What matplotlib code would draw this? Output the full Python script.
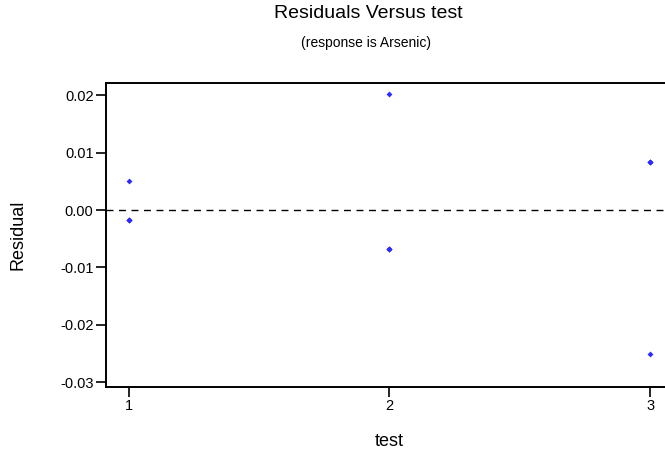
import matplotlib
matplotlib.use("Agg")
import matplotlib.pyplot as plt

plt.rcParams['font.family'] = ['Liberation Sans', 'DejaVu Sans']

test = [1, 1, 1, 1, 2, 2, 2, 2, 3, 3, 3, 3]
residual = [0.0051, -0.0017, -0.0017, -0.0017,
            0.0201, -0.0067, -0.0067, -0.0067,
            0.0083, 0.0083, 0.0083, -0.0250]
xticks = [1, 2, 3]
yticks = [-0.03, -0.02, -0.01, 0.00, 0.01, 0.02]
ytick_labels = ["-0.03", "-0.02", "-0.01", "0.00", "0.01", "0.02"]

fig = plt.figure(figsize=(6.65, 4.54), dpi=100)
ax = fig.add_axes([106/665, 1-387/454, (673-106)/665, (387-83)/454])

ax.axhline(0, color='black', lw=1.0, ls=(0, (5, 4)), zorder=1)
ax.scatter(test, residual, marker='D', s=9, color='#2b2bff', linewidths=0, zorder=3)

ax.set_xlim(0.912, 3.088)
ax.set_ylim(-0.0308, 0.0221)
ax.set_xticks(xticks)
ax.set_xticklabels([str(v) for v in xticks])
ax.set_yticks(yticks)
ax.set_yticklabels(ytick_labels)

for s in ['left', 'bottom', 'top']:
    ax.spines[s].set_linewidth(1.4)
ax.spines['right'].set_visible(False)
ax.tick_params(direction='out', length=7, width=1.2, labelsize=10.5, pad=2)

ax.set_xlabel('test', fontsize=13, labelpad=14)
ax.set_ylabel('Residual', fontsize=13, labelpad=24)

fig.text(368/665, 1-14/454, 'Residuals Versus test', ha='center', va='center', fontsize=14)
fig.text(366/665, 1-43/454, '(response is Arsenic)', ha='center', va='center', fontsize=10)

fig.savefig('out.png', dpi=100)
